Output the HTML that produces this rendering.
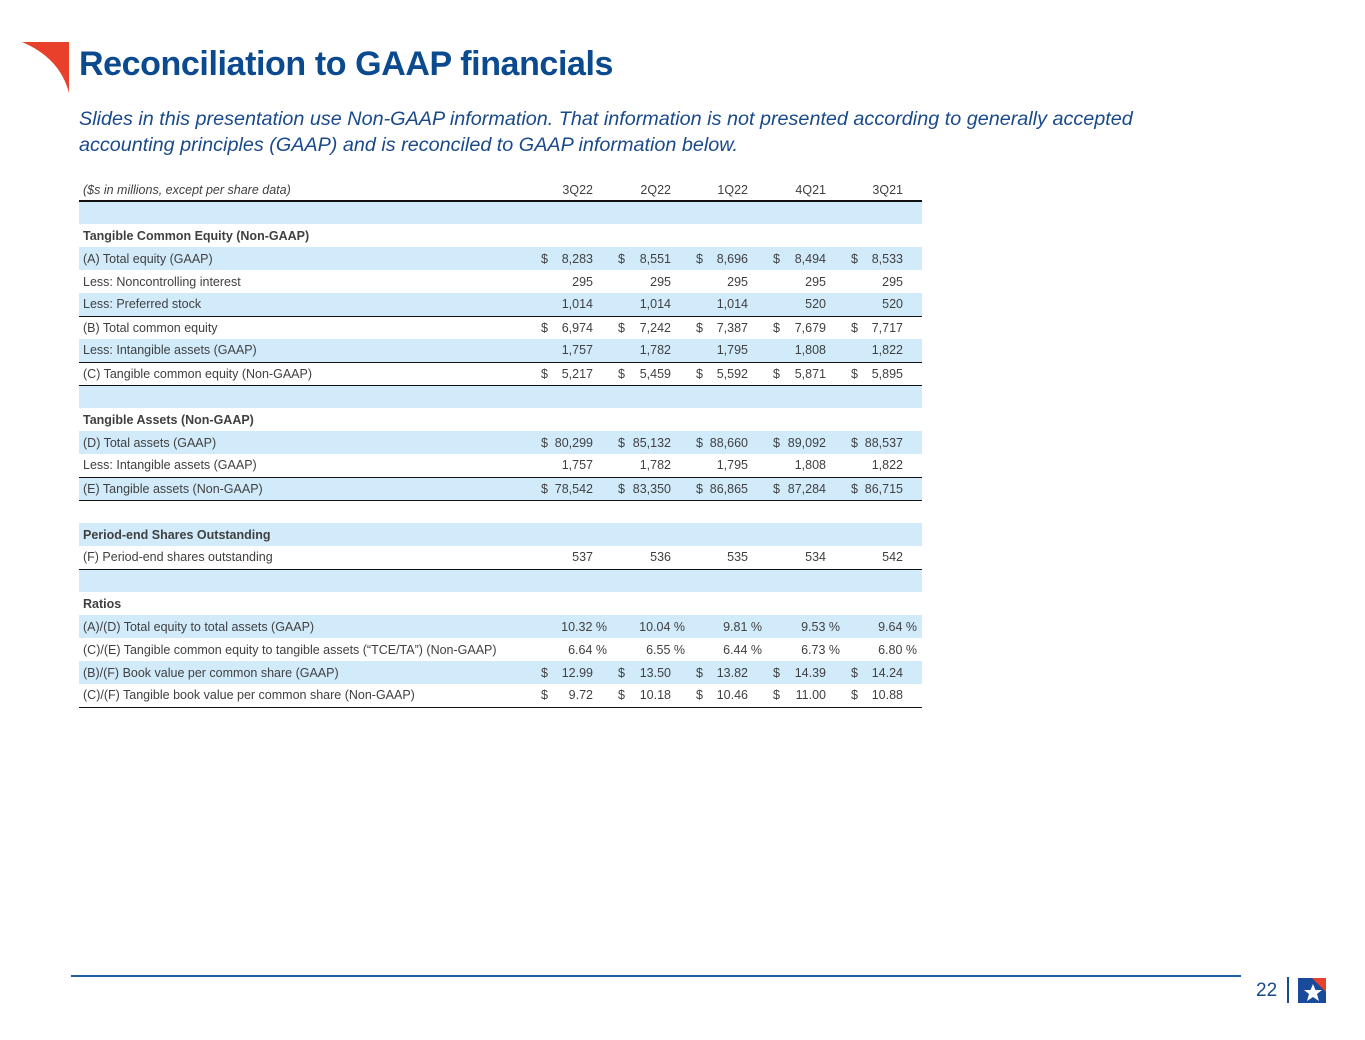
<!DOCTYPE html>
<html><head><meta charset="utf-8"><style>
body{margin:0;width:1365px;height:1040px;background:#fff;position:relative;font-family:"Liberation Sans",Arial,sans-serif;overflow:hidden}
.t{position:absolute;left:79px;top:45px;font-size:34px;font-weight:bold;color:#0b4a8f;letter-spacing:-0.4px;white-space:nowrap}
.s{position:absolute;left:79px;top:106px;font-size:19.8px;font-style:italic;color:#1a4a8a;line-height:26px;white-space:nowrap}
table{position:absolute;left:79px;top:178px;border-collapse:collapse;table-layout:fixed;width:843px;font-size:12.5px;color:#404040}
td{height:23px;padding:0;white-space:nowrap;box-sizing:border-box}
td.l{padding-left:4px}
tr.b td{background:#d2ebfb}
tr.h td{font-weight:bold}
tr.bt td{border-bottom:1.5px solid #111}
td.v{text-align:right;padding-right:15px;position:relative}
td.v span{position:absolute;left:10px}
td.p{text-align:right;padding-right:1px}
tr.hd td{font-size:12.5px;height:23px;border-bottom:2px solid #111;vertical-align:bottom;padding-bottom:3px}
.note{font-size:9px;font-style:italic}
</style></head><body>
<svg style="position:absolute;left:0;top:0" width="80" height="100"><path d="M22,42 L69,42 L69,93 Q60,58 22,42 Z" fill="#e8402a"/></svg>
<div class="t">Reconciliation to GAAP financials</div>
<div class="s">Slides in this presentation use Non-GAAP information. That information is not presented according to generally accepted<br>accounting principles (GAAP) and is reconciled to GAAP information below.</div>
<table>
<colgroup><col style="width:452px"><col style="width:77px"><col style="width:78px"><col style="width:77px"><col style="width:78px"><col style="width:81px"></colgroup>
<tr class="hd"><td class="l note">($s in millions, except per share data)</td><td class="v">3Q22</td><td class="v">2Q22</td><td class="v">1Q22</td><td class="v">4Q21</td><td class="v" style="padding-right:19px">3Q21</td></tr>
<tr class="b"><td></td><td></td><td></td><td></td><td></td><td></td></tr>
<tr class="h"><td class="l">Tangible Common Equity (Non-GAAP)</td><td></td><td></td><td></td><td></td><td></td></tr>
<tr class="b"><td class="l">(A) Total equity (GAAP)</td><td class="v"><span>$</span>8,283</td><td class="v"><span>$</span>8,551</td><td class="v"><span>$</span>8,696</td><td class="v"><span>$</span>8,494</td><td class="v" style="padding-right:19px"><span>$</span>8,533</td></tr>
<tr><td class="l">Less: Noncontrolling interest</td><td class="v">295</td><td class="v">295</td><td class="v">295</td><td class="v">295</td><td class="v" style="padding-right:19px">295</td></tr>
<tr class="b bt"><td class="l">Less: Preferred stock</td><td class="v">1,014</td><td class="v">1,014</td><td class="v">1,014</td><td class="v">520</td><td class="v" style="padding-right:19px">520</td></tr>
<tr><td class="l">(B) Total common equity</td><td class="v"><span>$</span>6,974</td><td class="v"><span>$</span>7,242</td><td class="v"><span>$</span>7,387</td><td class="v"><span>$</span>7,679</td><td class="v" style="padding-right:19px"><span>$</span>7,717</td></tr>
<tr class="b bt"><td class="l">Less: Intangible assets (GAAP)</td><td class="v">1,757</td><td class="v">1,782</td><td class="v">1,795</td><td class="v">1,808</td><td class="v" style="padding-right:19px">1,822</td></tr>
<tr class="bt"><td class="l">(C) Tangible common equity (Non-GAAP)</td><td class="v"><span>$</span>5,217</td><td class="v"><span>$</span>5,459</td><td class="v"><span>$</span>5,592</td><td class="v"><span>$</span>5,871</td><td class="v" style="padding-right:19px"><span>$</span>5,895</td></tr>
<tr class="b"><td></td><td></td><td></td><td></td><td></td><td></td></tr>
<tr class="h"><td class="l">Tangible Assets (Non-GAAP)</td><td></td><td></td><td></td><td></td><td></td></tr>
<tr class="b"><td class="l">(D) Total assets (GAAP)</td><td class="v"><span>$</span>80,299</td><td class="v"><span>$</span>85,132</td><td class="v"><span>$</span>88,660</td><td class="v"><span>$</span>89,092</td><td class="v" style="padding-right:19px"><span>$</span>88,537</td></tr>
<tr class="bt"><td class="l">Less: Intangible assets (GAAP)</td><td class="v">1,757</td><td class="v">1,782</td><td class="v">1,795</td><td class="v">1,808</td><td class="v" style="padding-right:19px">1,822</td></tr>
<tr class="b bt"><td class="l">(E) Tangible assets (Non-GAAP)</td><td class="v"><span>$</span>78,542</td><td class="v"><span>$</span>83,350</td><td class="v"><span>$</span>86,865</td><td class="v"><span>$</span>87,284</td><td class="v" style="padding-right:19px"><span>$</span>86,715</td></tr>
<tr><td></td><td></td><td></td><td></td><td></td><td></td></tr>
<tr class="b h"><td class="l">Period-end Shares Outstanding</td><td></td><td></td><td></td><td></td><td></td></tr>
<tr class="bt"><td class="l">(F) Period-end shares outstanding</td><td class="v">537</td><td class="v">536</td><td class="v">535</td><td class="v">534</td><td class="v" style="padding-right:19px">542</td></tr>
<tr class="b"><td></td><td></td><td></td><td></td><td></td><td></td></tr>
<tr class="h"><td class="l">Ratios</td><td></td><td></td><td></td><td></td><td></td></tr>
<tr class="b"><td class="l">(A)/(D) Total equity to total assets (GAAP)</td><td class="p">10.32 %</td><td class="p">10.04 %</td><td class="p">9.81 %</td><td class="p">9.53 %</td><td class="p" style="padding-right:5px">9.64 %</td></tr>
<tr><td class="l">(C)/(E) Tangible common equity to tangible assets (“TCE/TA”) (Non-GAAP)</td><td class="p">6.64 %</td><td class="p">6.55 %</td><td class="p">6.44 %</td><td class="p">6.73 %</td><td class="p" style="padding-right:5px">6.80 %</td></tr>
<tr class="b"><td class="l">(B)/(F) Book value per common share (GAAP)</td><td class="v"><span>$</span>12.99</td><td class="v"><span>$</span>13.50</td><td class="v"><span>$</span>13.82</td><td class="v"><span>$</span>14.39</td><td class="v" style="padding-right:19px"><span>$</span>14.24</td></tr>
<tr class="bt"><td class="l">(C)/(F) Tangible book value per common share (Non-GAAP)</td><td class="v"><span>$</span>9.72</td><td class="v"><span>$</span>10.18</td><td class="v"><span>$</span>10.46</td><td class="v"><span>$</span>11.00</td><td class="v" style="padding-right:19px"><span>$</span>10.88</td></tr>
</table>
<div style="position:absolute;left:71px;top:975px;width:1170px;height:2px;background:#1f5fa8"></div>
<div style="position:absolute;left:1256px;top:980px;font-size:19px;color:#1a4a8a">22</div>
<div style="position:absolute;left:1287px;top:977px;width:2px;height:26px;background:#1a4a8a"></div>
<svg style="position:absolute;left:1298px;top:978px" width="30" height="26"><rect x="0" y="0" width="28" height="25" fill="#1a4a9a"/><path d="M14,0 L28,0 L28,14 Z" fill="#e8402a"/><path d="M15,6 L17.5,12 L24,12 L19,16 L21,23 L15,19 L9,23 L11,16 L6,12 L12.5,12 Z" fill="#fff"/></svg>
</body></html>
